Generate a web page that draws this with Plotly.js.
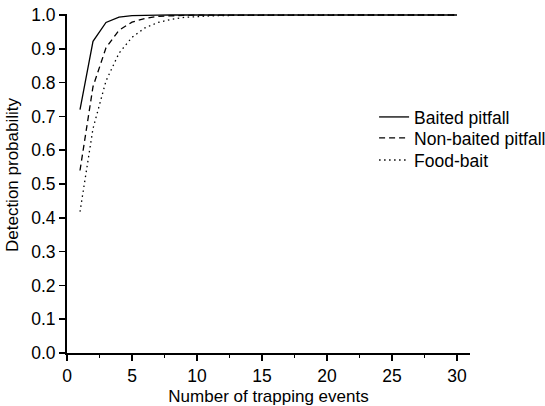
<!DOCTYPE html>
<html>
<head>
<meta charset="utf-8">
<script src="https://cdn.plot.ly/plotly-3.0.1.min.js"></script>
<style>html,body{margin:0;padding:0;background:#fff;}#chart{width:545px;height:406px;}</style>
</head>
<body>
<div id="chart"></div>
<script>
const trappingEvents = [1,2,3,4,5,6,7,8,9,10,11,12,13,14,15,16,17,18,19,20,21,22,23,24,25,26,27,28,29,30];
const baitedPitfall = [0.720,0.922,0.978,0.994,0.998,0.9995,0.9999,1,1,1,1,1,1,1,1,1,1,1,1,1,1,1,1,1,1,1,1,1,1,1];
const nonBaitedPitfall = [0.540,0.788,0.903,0.955,0.979,0.990,0.996,0.998,0.999,0.9996,0.9998,0.9999,1,1,1,1,1,1,1,1,1,1,1,1,1,1,1,1,1,1];
const foodBait = [0.418,0.664,0.805,0.887,0.934,0.962,0.978,0.987,0.993,0.996,0.9975,0.9985,0.9991,0.9995,0.9997,0.9998,0.9999,1,1,1,1,1,1,1,1,1,1,1,1,1];
const seriesNames = ["Baited pitfall","Non-baited pitfall","Food-bait"];
const xTicks = [0,5,10,15,20,25,30];
const yTicks = [0,0.1,0.2,0.3,0.4,0.5,0.6,0.7,0.8,0.9,1.0];

const fam = "Liberation Sans, Arial, sans-serif";
const tickFont = {family: fam, size: 17.5, color: "#000"};
const titleFont = {family: fam, size: 17, color: "#000"};
const legFont = {family: fam, size: 17.5, color: "#000"};
const traces = [
  {x: trappingEvents, y: baitedPitfall, name: seriesNames[0], legend: "legend", mode: "lines", line: {color: "#000", width: 1.3, dash: "solid"}},
  {x: trappingEvents, y: nonBaitedPitfall, name: seriesNames[1], legend: "legend2", mode: "lines", line: {color: "#000", width: 1.3, dash: "6px,4px"}},
  {x: trappingEvents, y: foodBait, name: seriesNames[2], legend: "legend3", mode: "lines", line: {color: "#000", width: 1.3, dash: "1.5px,3.5px"}}
];
const legBase = {x: 0.762, xanchor: "left", yanchor: "middle", font: legFont, bgcolor: "rgba(0,0,0,0)", borderwidth: 0};
const layout = {
  width: 545, height: 406,
  margin: {l: 67, r: 75, t: 14, b: 53, autoexpand: false},
  paper_bgcolor: "#fff", plot_bgcolor: "#fff",
  font: tickFont,
  showlegend: true,
  legend: Object.assign({}, legBase, {y: 0.696}),
  legend2: Object.assign({}, legBase, {y: 0.634}),
  legend3: Object.assign({}, legBase, {y: 0.569}),
  xaxis: {
    range: [0, 31], tickvals: xTicks, ticks: "outside", ticklen: 6, tickwidth: 1.5, tickcolor: "#000",
    minor: {tickvals: [2.5,7.5,12.5,17.5,22.5,27.5], ticks: "outside", ticklen: 3, tickwidth: 1.5, tickcolor: "#000"},
    showline: true, linecolor: "#000", linewidth: 2, showgrid: false, zeroline: false,
    title: {text: "Number of trapping events", font: titleFont, standoff: 10},
    tickfont: tickFont
  },
  yaxis: {
    range: [0, 1.003], tickvals: yTicks, tickformat: ".1f",
    ticks: "outside", ticklen: 6, tickwidth: 1.5, tickcolor: "#000",
    showline: true, linecolor: "#000", linewidth: 2, showgrid: false, zeroline: false,
    tickfont: tickFont
  },
  annotations: [{
    text: "Detection probability", textangle: -90, showarrow: false,
    xref: "paper", yref: "paper", x: 0, y: 0.525, xanchor: "center", yanchor: "middle",
    xshift: -55, font: titleFont
  }]
};
Plotly.newPlot("chart", traces, layout, {staticPlot: true, displayModeBar: false});
</script>
</body>
</html>
